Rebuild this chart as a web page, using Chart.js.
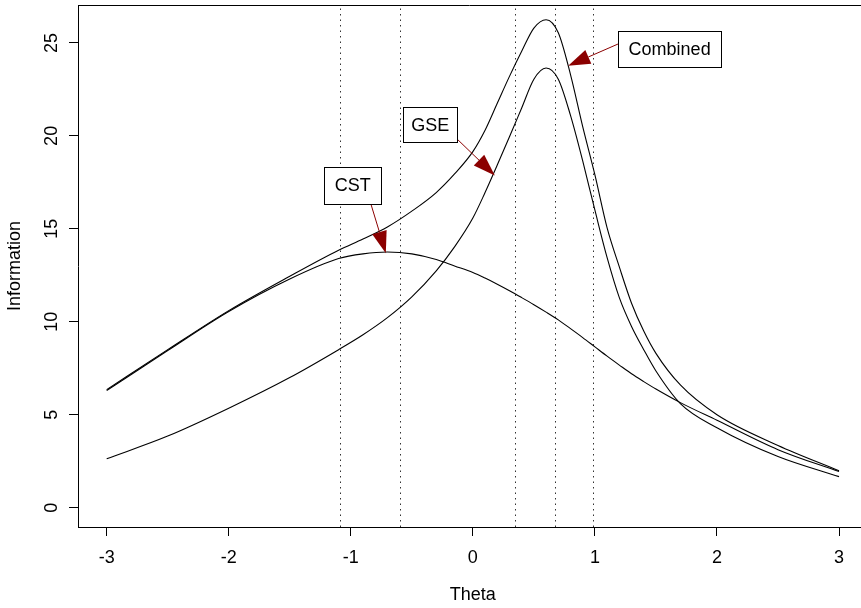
<!DOCTYPE html>
<html>
<head>
<meta charset="utf-8">
<script src="https://cdn.jsdelivr.net/npm/chart.js@4"></script>
<style>
  body { margin: 0; background: #fff; }
  canvas { display: block; }
</style>
</head>
<body>
<canvas id="myChart" width="861" height="608"></canvas>
<script>
// theta grid the curves were read at
var theta = [-3, -2.5, -2, -1.5, -1.1, -0.9, -0.7, -0.5, -0.3, -0.15, 0, 0.1, 0.2, 0.3, 0.4, 0.5, 0.6,
             0.7, 0.8, 0.9, 1.0, 1.1, 1.2, 1.3, 1.4, 1.5, 1.7, 2.0, 2.5, 3.0];

var infoCST = [6.3, 8.45, 10.55, 12.3, 13.4, 13.65, 13.75, 13.65, 13.35, 13.0, 12.65, 12.35, 12.02, 11.67, 11.3, 10.92, 10.52,
               10.1, 9.63, 9.15, 8.65, 8.15, 7.67, 7.2, 6.78, 6.38, 5.65, 4.7, 3.12, 1.94];
var infoGSE = [2.63, 3.85, 5.35, 7.0, 8.5, 9.3, 10.22, 11.34, 12.74, 14.03, 15.58, 16.95, 18.43, 19.95, 21.5, 23.05, 23.65,
               23.05, 21.1, 18.65, 16.0, 13.45, 11.3, 9.75, 8.5, 7.35, 5.6, 4.3, 2.75, 1.67];
var infoCombined = [6.35, 8.5, 10.6, 12.45, 13.85, 14.45, 15.1, 15.95, 16.95, 17.95, 19.15, 20.3, 21.75, 23.2, 24.55, 25.8, 26.25,
                    25.55, 23.3, 20.5, 17.9, 15.05, 12.95, 11.0, 9.5, 8.3, 6.6, 5.0, 3.35, 1.99];

// dotted reference lines
var cutPoints = [-1.09, -0.6, 0.344, 0.672, 0.981];

var xTicks = [-3, -2, -1, 0, 1, 2, 3];
var yTicks = [0, 5, 10, 15, 20, 25];

// labelled boxes with arrows (data coords)
var callouts = [
    {text: "CST", x: -0.984, y: 17.35, w: 57, h: 37, x0: -0.836, y0: 16.35, x1: -0.713, y1: 13.69},
    {text: "GSE", x: -0.35, y: 20.6, w: 54, h: 35, x0: -0.129, y0: 19.83, x1: 0.18, y1: 17.87},
    {text: "Combined", x: 1.612, y: 24.65, w: 103, h: 36, x0: 1.189, y0: 24.94, x1: 0.781, y1: 23.77}
];

function pts(ys) {
    return theta.map(function (t, i) { return {x: t, y: ys[i]}; });
}

function curve(label, ys) {
    return {
        label: label,
        data: pts(ys),
        borderColor: "#000",
        borderWidth: 1.1,
        pointRadius: 0,
        fill: false,
        cubicInterpolationMode: "monotone"
    };
}

var FONT = '18px "Liberation Sans", Arial, sans-serif';

var rDecor = {
    id: "rDecor",
    beforeDatasetsDraw: function (chart) {
        var ctx = chart.ctx, a = chart.chartArea, xs = chart.scales.x;
        ctx.save();
        ctx.strokeStyle = "#333";
        ctx.lineWidth = 1;
        ctx.setLineDash([1.5, 4]);
        cutPoints.forEach(function (c) {
            var px = Math.round(xs.getPixelForValue(c)) + 0.5;
            ctx.beginPath();
            ctx.moveTo(px, a.bottom);
            ctx.lineTo(px, a.top);
            ctx.stroke();
        });
        ctx.restore();
    },
    afterDatasetsDraw: function (chart) {
        var ctx = chart.ctx, a = chart.chartArea, xs = chart.scales.x, ys = chart.scales.y;
        ctx.save();
        // top edge of the box
        ctx.strokeStyle = "#000";
        ctx.lineWidth = 1;
        ctx.beginPath();
        ctx.moveTo(a.left, a.top + 0.5);
        ctx.lineTo(a.right, a.top + 0.5);
        ctx.stroke();

        ctx.fillStyle = "#000";
        ctx.font = FONT;
        ctx.textAlign = "center";
        ctx.textBaseline = "middle";
        xTicks.forEach(function (t) {
            ctx.fillText(String(t), xs.getPixelForValue(t), 558);
        });
        yTicks.forEach(function (t) {
            ctx.save();
            ctx.translate(52, ys.getPixelForValue(t));
            ctx.rotate(-Math.PI / 2);
            ctx.fillText(String(t), 0, 0);
            ctx.restore();
        });
        ctx.fillText("Theta", xs.getPixelForValue(0), 595);
        ctx.save();
        ctx.translate(15, (a.top + a.bottom) / 2);
        ctx.rotate(-Math.PI / 2);
        ctx.fillText("Information", 0, 0);
        ctx.restore();

        // callouts
        callouts.forEach(function (c) {
            var px0 = xs.getPixelForValue(c.x0), py0 = ys.getPixelForValue(c.y0);
            var px1 = xs.getPixelForValue(c.x1), py1 = ys.getPixelForValue(c.y1);
            var ang = Math.atan2(py1 - py0, px1 - px0);
            var hl = 22, hw = 7.5;
            var bx = px1 - hl * Math.cos(ang), by = py1 - hl * Math.sin(ang);
            ctx.strokeStyle = "#8B0000";
            ctx.fillStyle = "#8B0000";
            ctx.lineWidth = 1;
            ctx.beginPath();
            ctx.moveTo(px0, py0);
            ctx.lineTo(bx, by);
            ctx.stroke();
            ctx.beginPath();
            ctx.moveTo(px1, py1);
            ctx.lineTo(bx + hw * Math.sin(ang), by - hw * Math.cos(ang));
            ctx.lineTo(bx - hw * Math.sin(ang), by + hw * Math.cos(ang));
            ctx.closePath();
            ctx.fill();

            var cx = xs.getPixelForValue(c.x), cy = ys.getPixelForValue(c.y);
            var l = Math.round(cx - c.w / 2) + 0.5, t = Math.round(cy - c.h / 2) + 0.5;
            ctx.fillStyle = "#fff";
            ctx.fillRect(l, t, c.w, c.h);
            ctx.strokeStyle = "#000";
            ctx.strokeRect(l, t, c.w, c.h);
            ctx.fillStyle = "#000";
            ctx.fillText(c.text, cx, cy + 1);
        });
        ctx.restore();
    }
};

function axisOpts(min, max, ticks, fit) {
    return {
        type: "linear",
        min: min,
        max: max,
        afterBuildTicks: function (s) {
            s.ticks = ticks.map(function (v) { return {value: v}; });
        },
        afterFit: fit,
        ticks: {display: false},
        grid: {
            drawOnChartArea: false,
            drawTicks: true,
            tickLength: 9,
            color: "#000",
            lineWidth: 1
        },
        border: {display: true, color: "#000", width: 1}
    };
}

new Chart("myChart", {
    type: "line",
    data: {
        datasets: [
            curve("Combined", infoCombined),
            curve("GSE", infoGSE),
            curve("CST", infoCST)
        ]
    },
    options: {
        responsive: false,
        animation: false,
        devicePixelRatio: 1,
        layout: {padding: {top: 5, right: 0, left: 0, bottom: 0}},
        plugins: {legend: {display: false}, tooltip: {enabled: false}},
        scales: {
            x: axisOpts(-3.235, 3.18, xTicks, function (s) { s.height = 81; }),
            y: axisOpts(-1.04, 27.04, yTicks, function (s) { s.width = 78; })
        }
    },
    plugins: [rDecor]
});
</script>
</body>
</html>
